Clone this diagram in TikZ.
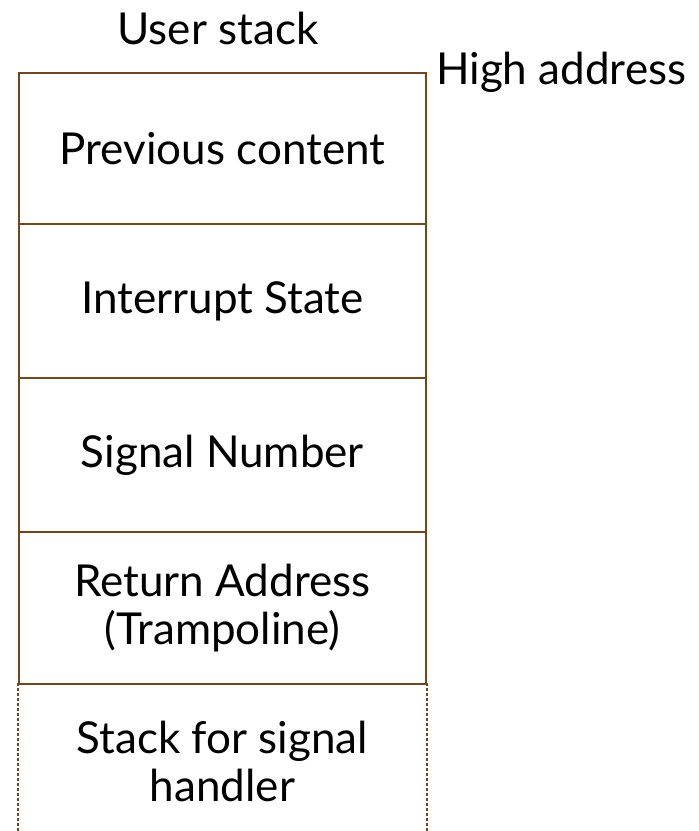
\documentclass[tikz,border=0pt]{standalone}
\usepackage{fontspec}
\setmainfont{Lato}
\definecolor{stackbrown}{RGB}{115,70,30}
\begin{document}
\begin{tikzpicture}[x=1pt,y=-1pt,
  cell/.style={draw=stackbrown,line width=1.8pt,minimum width=407pt,inner sep=0pt,anchor=north west,font=\fontsize{44}{48}\selectfont,align=center},
  lbl/.style={font=\fontsize{44}{48}\selectfont,inner sep=0pt}]
\useasboundingbox (0,0) rectangle (699,831);
\node[cell,minimum height=151pt] (c1) at (18,72) {Previous content};
\node[cell,minimum height=154pt] (c2) at (18,223) {Interrupt State};
\node[cell,minimum height=154pt] (c3) at (18,377) {Signal Number};
\node[cell,minimum height=152pt] (c4) at (18,531) {Return Address\\(Trampoline)};
\node[cell,draw=none,minimum height=148pt] (c5) at (18,683) {};
\node[font=\fontsize{44}{48}\selectfont,align=center,inner sep=0pt] (t5) at ([yshift=-4pt]c5.center) {Stack for signal\\handler};
\draw[stackbrown,line width=1.5pt,dash pattern=on 3pt off 2pt] (c5.north west) -- (c5.south west);
\draw[stackbrown,line width=1.5pt,dash pattern=on 3pt off 2pt] (c5.north east) -- (c5.south east);
\node[lbl,anchor=center] (us) at (218,28) {User stack};
\node[lbl,anchor=west] (ha) at (436,72) {High address};
\end{tikzpicture}
\end{document}
